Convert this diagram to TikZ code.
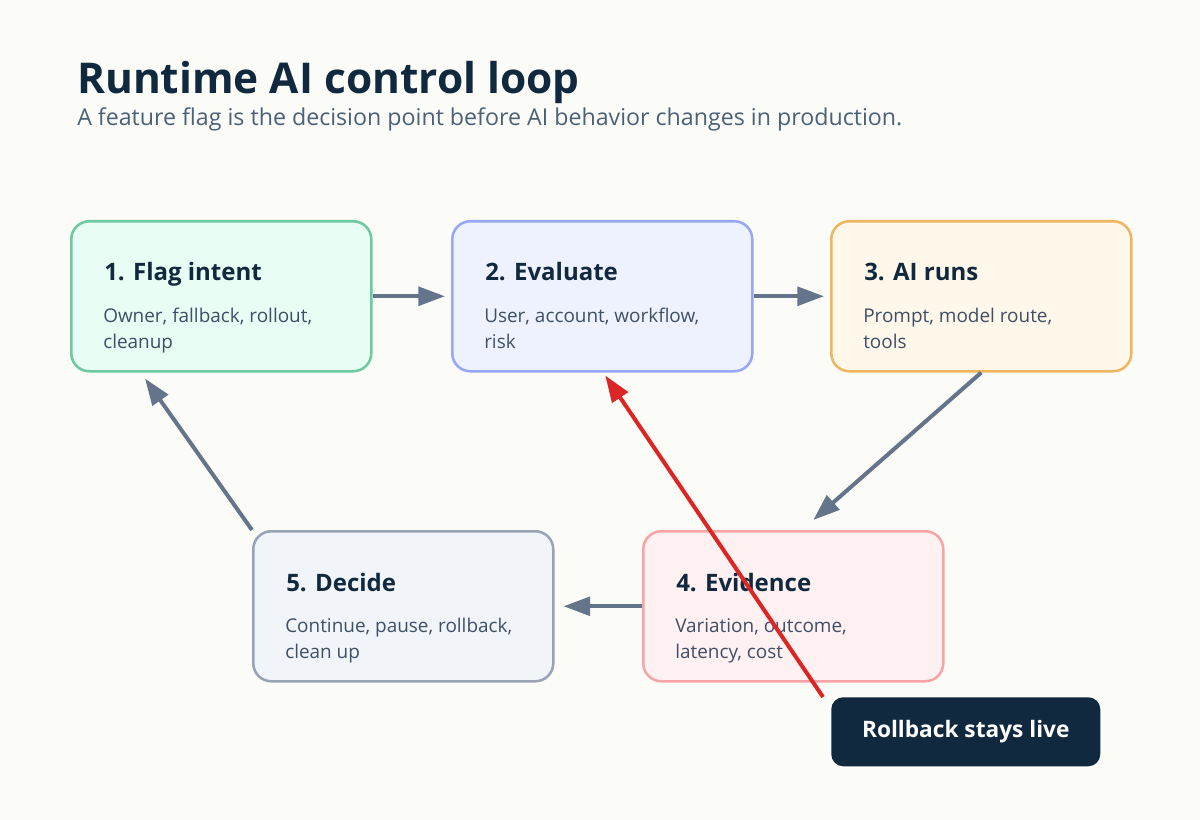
\documentclass[tikz,border=0pt]{standalone}
\usepackage{fontspec}
\setmainfont{Open Sans}
\usetikzlibrary{positioning,arrows.meta,calc}
\definecolor{bg}{HTML}{FBFBF7}
\definecolor{ink}{HTML}{10293F}
\definecolor{subink}{HTML}{4A6178}
\definecolor{bodyink}{HTML}{3E4F66}
\definecolor{arrowgray}{HTML}{64748B}
\definecolor{alert}{HTML}{DC2626}
\definecolor{lineflag}{HTML}{6CC9A0}
\definecolor{fillflag}{HTML}{E8FDF3}
\definecolor{lineeval}{HTML}{97A6F6}
\definecolor{filleval}{HTML}{EEF2FF}
\definecolor{lineai}{HTML}{F0B560}
\definecolor{fillai}{HTML}{FFF8EA}
\definecolor{lineevid}{HTML}{F6A4A6}
\definecolor{fillevid}{HTML}{FFF1F2}
\definecolor{linedecide}{HTML}{98A3B8}
\definecolor{filldecide}{HTML}{F1F5F9}

\tikzset{
  card/.style={draw, line width=1.9pt, rounded corners=13.5pt, minimum width=225pt,
    minimum height=112.5pt, anchor=north west, inner sep=0pt},
  cardhead/.style={anchor=base west, inner sep=0pt, text=ink,
    font=\fontsize{18}{22}\selectfont\bfseries},
  cardbody/.style={anchor=base west, inner sep=0pt, text=bodyink,
    font=\fontsize{14.2}{19.5}\selectfont},
  flow/.style={-{Triangle[length=20pt,width=14pt]}, line width=3pt, arrowgray},
}

\begin{document}
\begin{tikzpicture}[x=0.75pt, y=-0.75pt]
    % Page
    \useasboundingbox[fill=bg] (0,0) rectangle (1200,820);

    % Heading
    \node[anchor=base west, inner sep=0pt, text=ink,
      font=\fontsize{31.8}{36}\selectfont\bfseries] (title) at (77,94) {Runtime AI control loop};
    \node[anchor=base west, inner sep=0pt, text=subink,
      font=\fontsize{17.4}{20}\selectfont] (subtitle) at (77,126)
      {A feature flag is the decision point before AI behavior changes in production.};

    % Cards
    \foreach \n/\x/\y/\h/\a/\b in {
        flag/70/220/{1. Flag intent}/{Owner, fallback, rollout,}/{cleanup},
        eval/451/220/{2. Evaluate}/{User, account, workflow,}/{risk},
        ai/830/220/{3. AI runs}/{Prompt, model route,}/{tools},
        evid/642/530/{4. Evidence}/{Variation, outcome,}/{latency, cost},
        decide/252/530/{5. Decide}/{Continue, pause, rollback,}/{clean up}} {
        \node[card, draw=line\n, fill=fill\n] (\n) at (\x,\y) {};
        \node[cardhead] (\n-head) at ($(\n.north west)+(34,61)$) {\h};
        \node[cardbody] (\n-one) at ($(\n.north west)+(33,102)$) {\a};
        \node[cardbody] (\n-two) at ($(\n.north west)+(33,128)$) {\b};
    }

    % Note
    \node[fill=ink, rounded corners=9pt, minimum width=201.75pt, minimum height=51.75pt,
      anchor=north west, inner sep=0pt, text=white,
      font=\fontsize{17}{20}\selectfont\bfseries] (rollback) at (831,697) {Rollback stays live};

    % Loop arrows
    \draw[flow, shorten >=4.5pt] (flag) -- (eval);
    \draw[flow, shorten >=4.5pt] (eval) -- (ai);
    \draw[flow] (ai.south) -- ($(evid.north)+(20,-10)$);
    \draw[flow, shorten >=6.75pt] (evid) -- (decide);
    \draw[flow] (decide.north west) -- ($(flag.south west)+(75,6)$);

    % Rollback path
    \draw[flow, alert] ($(rollback.north west)+(-8,0)$) -- ($(eval.south)+(3,3)$);
\end{tikzpicture}
\end{document}
